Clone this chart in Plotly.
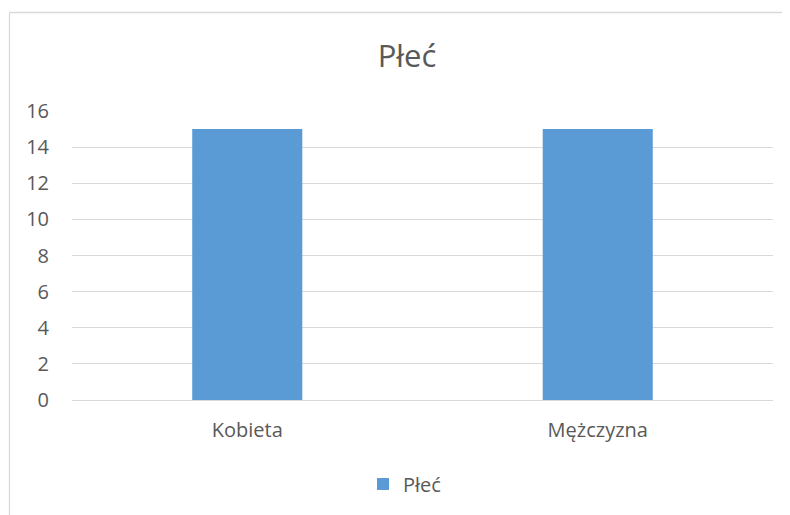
import plotly.graph_objects as go

categories = ["Kobieta", "Mężczyzna"]
values = [15, 15]
series_name = "Płeć"
title_text = "Płeć"
y_ticks = [0, 2, 4, 6, 8, 10, 12, 14, 16]

# the page body adds an 8px offset; work in reference pixels and shift
OFF = 8
W, H = 790 - OFF, 515 - OFF
L, R, T, B = 72 - OFF, 773 - OFF, 111 - OFF, 400 - OFF

def px_to_paper_x(px):
    return (px - OFF - L) / (R - L)

def px_to_paper_y(py):
    return (B - (py - OFF)) / (B - T)

font_family = "Open Sans, Liberation Sans, DejaVu Sans, sans-serif"
txt = "#595959"

fig = go.Figure()
fig.add_trace(go.Bar(
    x=categories, y=values, name=series_name,
    marker=dict(color="#5B9BD5", line=dict(width=0)),
    showlegend=True,
))

fig.update_layout(
    width=W, height=H,
    margin=dict(l=L, r=W - R, t=T, b=H - B, pad=0),
    paper_bgcolor="white", plot_bgcolor="white",
    bargap=0.686,
    font=dict(family=font_family, color=txt, size=20),
    title=dict(text=title_text, x=(407 - OFF) / W, xanchor="center", xref="container",
               y=1 - (56 - OFF) / H, yanchor="middle", yref="container",
               font=dict(size=31, color=txt, family=font_family)),
    showlegend=True,
    legend=dict(orientation="h", x=px_to_paper_x(363), xanchor="left",
                y=px_to_paper_y(484), yanchor="middle",
                font=dict(size=20, color=txt), bgcolor="rgba(0,0,0,0)"),
    xaxis=dict(showgrid=False, showline=False, zeroline=False, ticks="",
               ticklabelstandoff=16, tickfont=dict(size=20, color=txt)),
    yaxis=dict(range=[0, 16], tickvals=y_ticks, showgrid=True,
               gridcolor="#D9D9D9", gridwidth=1, zeroline=True,
               zerolinecolor="#D9D9D9", zerolinewidth=1, showline=False,
               ticks="", ticklabelstandoff=22, tickfont=dict(size=20, color=txt)),
)

border = "#D9D9D9"
fig.add_shape(type="line", xref="paper", yref="paper",
              x0=px_to_paper_x(9.5), x1=px_to_paper_x(800),
              y0=px_to_paper_y(12.5), y1=px_to_paper_y(12.5),
              line=dict(color=border, width=1.3), layer="below")
fig.add_shape(type="line", xref="paper", yref="paper",
              x0=px_to_paper_x(9.5), x1=px_to_paper_x(9.5),
              y0=px_to_paper_y(12.5), y1=px_to_paper_y(530),
              line=dict(color=border, width=1.3), layer="below")

fig.write_html("out.html")
